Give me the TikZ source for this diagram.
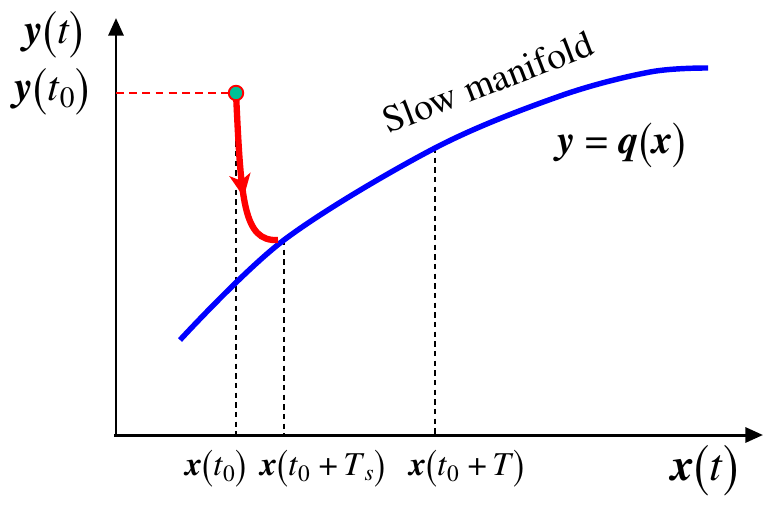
\documentclass[tikz,border=0pt]{standalone}
\usepackage[T1]{fontenc}
\renewcommand{\rmdefault}{ptm}
\usetikzlibrary{arrows.meta, decorations.markings}

\definecolor{dotgreen}{RGB}{0,192,150}
\newcommand{\lp}{\raisebox{-0.12em}{\scalebox{1}[1.3]{(}}}
\newcommand{\rp}{\raisebox{-0.12em}{\scalebox{1}[1.3]{)}}}
\newcommand{\vb}[1]{\textbf{\textit{#1}}}

\begin{document}
\begin{tikzpicture}[x=0.02cm,y=-0.02cm,
  axis/.style={line width=1.7pt,-{Triangle[length=10pt,width=8.5pt]}},
  guide/.style={dash pattern=on 3pt off 2.5pt,line width=1pt},
  reddash/.style={red,dash pattern=on 4.5pt off 3pt,line width=1.1pt},
  manifold/.style={blue,line width=3.1pt},
  traj/.style={red,line width=3.6pt,postaction={decorate},
    decoration={markings,mark=at position 0.63 with {\arrow{Stealth[length=13pt,width=12pt,inset=3.5pt]}}}},
  dot/.style={circle,fill=dotgreen,draw=red,line width=1.1pt,inner sep=0pt,minimum size=0.29cm},
  lbl/.style={inner sep=0pt,font=\fontsize{19}{22}\selectfont},
  biglbl/.style={inner sep=0pt,font=\fontsize{24}{28}\selectfont}]
\useasboundingbox (0,0) rectangle (763,507);

\coordinate (O) at (116,435);
\coordinate (ytop) at (116,18);
\coordinate (xend) at (763,435);
\coordinate (p0) at (236,93);
\coordinate (ya) at (116,93);
\coordinate (m0) at (180,340);
\coordinate (m1) at (284,240);
\coordinate (m2) at (435,148);
\coordinate (m3) at (560,96);
\coordinate (m4) at (650,72);
\coordinate (m5) at (708,68);
\coordinate (r1) at (278,240);

\draw[axis] (O) -- (ytop);
\draw[axis] ([xshift=-1pt]O) -- (xend);

\draw[reddash] (ya) -- (p0);
\draw[guide] (p0) -- (p0 |- O);
\draw[guide] (m1) -- (m1 |- O);
\draw[guide] (m2) -- (m2 |- O);

\draw[manifold] plot[smooth,tension=0.55] coordinates {(m0) (m1) (m2) (m3) (m4) (m5)};
\draw[traj] (p0) .. controls (241,200) and (243,242) .. (r1);
\node[dot] (y0) at (p0) {};

\node[biglbl] (lyt) at (54,35) {\vb{y}\lp\textit{t}\rp};
\node[biglbl] (ly0) at (52,92) {\vb{y}\lp\textit{t}\textsubscript{0}\rp};
\node[lbl] (lx0) at (216,469) {\vb{x}\lp\textit{t}\textsubscript{0}\rp};
\node[lbl] (lxs) at (323,469) {\vb{x}\lp\textit{t}\textsubscript{0} +\,\textit{T}\textsubscript{\textit{s}}\rp};
\node[lbl] (lxT) at (467,469) {\vb{x}\lp\textit{t}\textsubscript{0} +\,\textit{T}\rp};
\node[biglbl,font=\fontsize{26}{30}\selectfont] (lxt) at (705,471) {\vb{x}\lp\textit{t}\rp};
\node[lbl,font=\fontsize{21.5}{25}\selectfont,rotate=21] (slow) at (488,82) {Slow manifold};
\node[biglbl,font=\fontsize{23}{27}\selectfont] (lq) at (622,145) {\vb{y} = \vb{q}\lp\vb{x}\rp};
\end{tikzpicture}
\end{document}
